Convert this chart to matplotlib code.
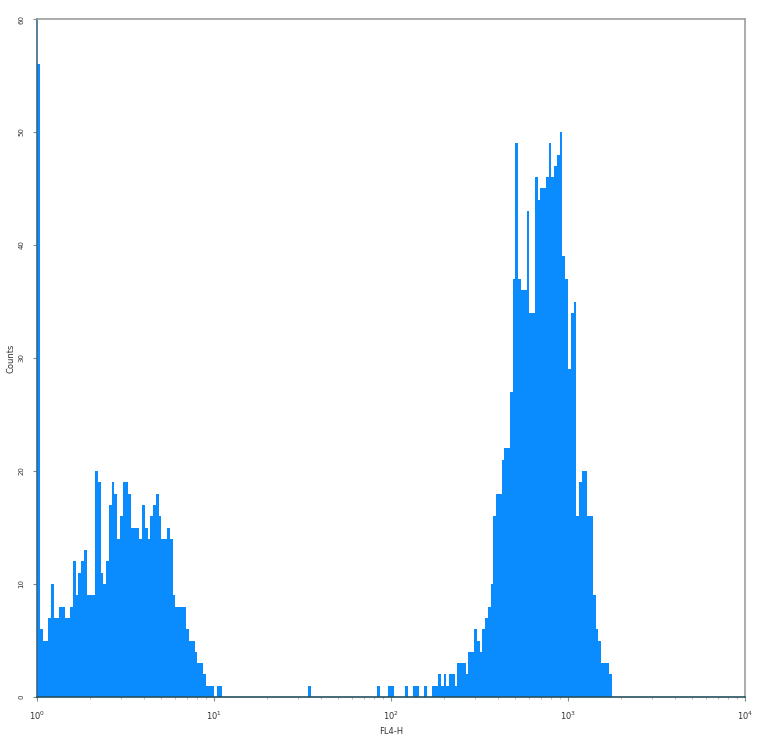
#!/usr/bin/env python
"""
Flow cytometry histogram, FL4-H, 256 log channels over 4 decades.
"""

import numpy as np
import matplotlib as mpl
mpl.use('Agg')
import matplotlib.pyplot as plt

# --- data (counts per channel) ---
n_channels = 256
decades = 4

# dim population, channels 0..67
left_counts = [56, 6, 5, 5, 7, 10, 7, 7, 8, 8, 7, 7, 8, 12, 9, 11, 12, 13, 9, 9,
               9, 20, 19, 11, 10, 12, 17, 19, 18, 14, 16, 19, 19, 18, 15, 15, 15, 14,
               17, 15, 14, 16, 17, 18, 16, 14, 14, 15, 14, 9, 8, 8, 8, 8, 6, 5, 5, 4,
               3, 3, 2, 1, 1, 1, 0, 1, 1, 0]

# scattered events between the peaks
mid_channels = [98, 123, 127, 128, 133, 136, 137, 140, 143, 144, 145, 146, 147, 148,
                149, 150, 151, 152, 153]
mid_counts = [1, 1, 1, 1, 1, 1, 1, 1, 1, 1, 2, 1, 2, 1, 2, 2, 1, 3, 3]

# bright population, channels 154..207
right_start = 154
right_counts = [3, 2, 4, 4, 6, 5, 4, 6, 7, 8, 10, 16, 18, 18, 21, 22, 22, 27, 37, 49,
                37, 36, 36, 43, 34, 34, 46, 44, 45, 45, 46, 49, 46, 47, 48, 50, 39, 37,
                29, 34, 35, 16, 19, 20, 20, 16, 16, 9, 6, 5, 3, 3, 3, 2]

yticks = [0, 10, 20, 30, 40, 50, 60]
xticks = [1, 10, 100, 1000, 10000]
xticklabels = ['$10^0$', '$10^1$', '$10^2$', '$10^3$', '$10^4$']

# --- assemble channel array ---
counts = np.zeros(n_channels)
counts[:len(left_counts)] = left_counts
counts[mid_channels] = mid_counts
counts[right_start:right_start + len(right_counts)] = right_counts

edges = 10 ** (np.arange(n_channels + 1) * decades / float(n_channels))

# --- plot ---
fig = plt.figure(figsize=(7.64, 7.42), dpi=100)
ax = fig.add_axes([37 / 764., 45 / 742., 708 / 764., 678 / 742.])

ax.stairs(counts, edges, fill=True, color='#0a8cff', linewidth=0)

ax.set_xscale('log')
ax.set_xlim(1, 10 ** decades)
ax.set_ylim(0, 60)

ax.set_xticks(xticks)
ax.set_xticklabels(xticklabels, fontsize=6)
ax.set_yticks(yticks)
ax.set_yticklabels([str(v) for v in yticks], fontsize=5, rotation=90, va='center')
ax.tick_params(axis='both', which='major', length=3, width=0.8, color='#7f8f7f',
               labelcolor='#333333')
ax.tick_params(axis='x', which='major', pad=6)
ax.tick_params(axis='y', which='major', pad=6)
ax.tick_params(axis='x', which='minor', length=1.5, width=0.6, color='#c8a0a0')
ax.xaxis.set_minor_locator(mpl.ticker.LogLocator(base=10, subs=np.arange(2, 10)))
ax.xaxis.set_minor_formatter(mpl.ticker.NullFormatter())

ax.set_xlabel('FL4-H', fontsize=6, color='#333333', labelpad=4)
ax.set_ylabel('Counts', fontsize=6, color='#333333', labelpad=2)

ax.spines['left'].set_color('#3a6a8a')
ax.spines['bottom'].set_color('#25505f')
ax.spines['top'].set_color('#9aa09a')
ax.spines['right'].set_color('#9aa09a')
for s in ax.spines.values():
    s.set_linewidth(1.2)

plt.savefig('out.png', dpi=100)
plt.close()
